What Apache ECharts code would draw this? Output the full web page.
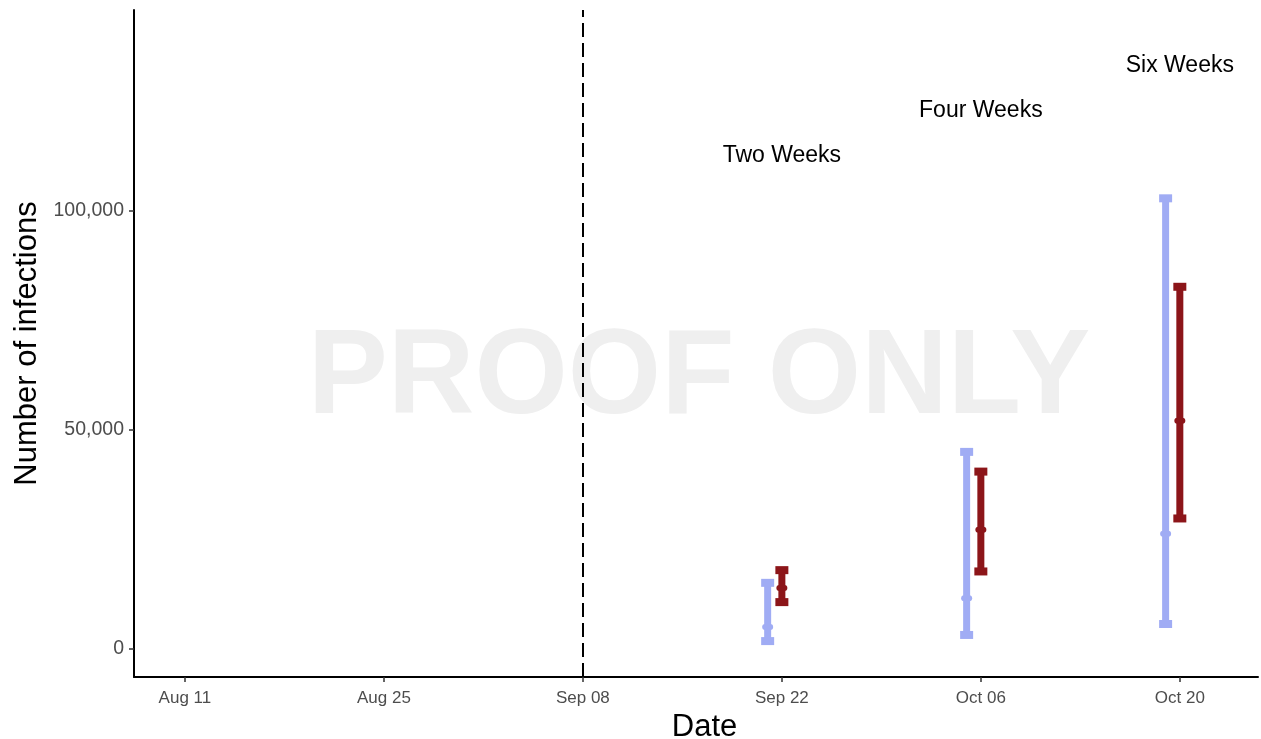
<!DOCTYPE html>
<html>
<head>
<meta charset="utf-8">
<script src="https://cdn.jsdelivr.net/npm/echarts@6/dist/echarts.min.js"></script>
<style>
html,body{margin:0;padding:0;background:#fff;}
#chart{width:1261px;height:739px;}
</style>
</head>
<body>
<div id="chart"></div>
<script>
// ---- data ----
const xTickDates = ['2020-08-11','2020-08-25','2020-09-08','2020-09-22','2020-10-06','2020-10-20'];
const yTickValues = [0, 50000, 100000];
const forecastStart = '2020-09-08';
const horizonLabels = ['Two Weeks','Four Weeks','Six Weeks'];
const labelDates = ['2020-09-22','2020-10-06','2020-10-20'];
const labelValues = [112600, 122900, 133200];
const blueDates = ['2020-09-21','2020-10-05','2020-10-19'];
const blueLow  = [1800, 3200, 5700];
const blueMid  = [5000, 11600, 26300];
const blueHigh = [15100, 45000, 102900];
const redDates = ['2020-09-22','2020-10-06','2020-10-20'];
const redLow  = [10700, 17700, 29800];
const redMid  = [13900, 27200, 52100];
const redHigh = [18000, 40500, 82700];
const xMinDate = '2020-08-07T10:00:00Z';
const xMaxDate = '2020-10-25T12:00:00Z';
const yMin = -6400, yMax = 145900;

// ---- helpers ----
const ts = s => (s.length > 10 ? Date.parse(s) : Date.parse(s + 'T00:00:00Z'));
const MONTHS = ['Jan','Feb','Mar','Apr','May','Jun','Jul','Aug','Sep','Oct','Nov','Dec'];
const fmtDate = v => { const d = new Date(v); return MONTHS[d.getUTCMonth()] + ' ' + String(d.getUTCDate()).padStart(2,'0'); };
const FONT = '"Liberation Sans", Arial, Helvetica, sans-serif';
const BLUE = '#A0ACF4';
const RED = '#8C1519';

function errorData(dates, lo, mid, hi) {
  return dates.map((d, i) => [ts(d), lo[i], mid[i], hi[i]]);
}
function errorRenderer(color) {
  return function (params, api) {
    const x = api.value(0);
    const pLo = api.coord([x, api.value(1)]);
    const pMid = api.coord([x, api.value(2)]);
    const pHi = api.coord([x, api.value(3)]);
    const cx = pLo[0];
    const bw = 7, cw = 13, ch = 8;
    return {
      type: 'group',
      children: [
        { type: 'rect', shape: { x: cx - bw / 2, y: pHi[1], width: bw, height: pLo[1] - pHi[1] }, style: { fill: color } },
        { type: 'rect', shape: { x: cx - cw / 2, y: pHi[1] - ch / 2, width: cw, height: ch }, style: { fill: color } },
        { type: 'rect', shape: { x: cx - cw / 2, y: pLo[1] - ch / 2, width: cw, height: ch }, style: { fill: color } },
        { type: 'rect', shape: { x: cx - 5.5, y: pMid[1] - 3, width: 11, height: 6, r: 3 }, style: { fill: color } }
      ]
    };
  };
}

const chart = echarts.init(document.getElementById('chart'), null, { renderer: 'canvas' });
const option = {
  backgroundColor: '#ffffff',
  animation: false,
  graphic: [{
    type: 'text', x: 699, y: 380, z: 0, silent: true,
    style: { text: 'PROOF ONLY', fill: '#EFEFEF', font: 'bold 120px ' + FONT, align: 'center', verticalAlign: 'middle' }
  }],
  grid: { left: 134, right: 3, top: 10, bottom: 62, containLabel: false, outerBoundsMode: 'none' },
  xAxis: {
    type: 'value',
    min: ts(xMinDate), max: ts(xMaxDate),
    name: 'Date', nameLocation: 'middle', nameGap: 30,
    nameTextStyle: { fontSize: 31, color: '#000', fontFamily: FONT, padding: [0, 0, 0, 17] },
    axisLine: { show: true, onZero: false, lineStyle: { color: '#000', width: 2 } },
    axisTick: { show: true, length: 5, lineStyle: { color: '#333', width: 1.5 }, customValues: xTickDates.map(ts) },
    axisLabel: { customValues: xTickDates.map(ts), formatter: v => fmtDate(v), fontSize: 17, color: '#4D4D4D', fontFamily: FONT, margin: 13, hideOverlap: false },
    splitLine: { show: false }
  },
  yAxis: {
    type: 'value',
    min: yMin, max: yMax,
    name: 'Number of infections', nameLocation: 'middle', nameGap: 90,
    nameTextStyle: { fontSize: 31, color: '#000', fontFamily: FONT },
    axisLine: { show: true, onZero: false, lineStyle: { color: '#000', width: 2 } },
    axisTick: { show: true, length: 5, lineStyle: { color: '#333', width: 1.5 }, customValues: yTickValues },
    axisLabel: { customValues: yTickValues, formatter: v => v.toLocaleString('en-US'), fontSize: 19.5, color: '#4D4D4D', fontFamily: FONT, margin: 10, padding: [4, 0, 0, 0] },
    splitLine: { show: false }
  },
  series: [
    {
      type: 'custom', name: 'blue', z: 3,
      data: errorData(blueDates, blueLow, blueMid, blueHigh),
      renderItem: errorRenderer(BLUE),
      encode: { x: 0, y: [1, 2, 3] },
      markLine: {
        silent: true, symbol: 'none', label: { show: false },
        lineStyle: { color: '#000', width: 2, type: [14, 6] },
        data: [{ xAxis: ts(forecastStart) }]
      }
    },
    {
      type: 'custom', name: 'red', z: 3,
      data: errorData(redDates, redLow, redMid, redHigh),
      renderItem: errorRenderer(RED),
      encode: { x: 0, y: [1, 2, 3] }
    },
    {
      type: 'custom', name: 'labels', z: 4,
      data: labelDates.map((d, i) => [ts(d), labelValues[i]]),
      renderItem: function (params, api) {
        const p = api.coord([api.value(0), api.value(1)]);
        return {
          type: 'text', x: p[0], y: p[1],
          style: { text: horizonLabels[params.dataIndex], fill: '#000', font: '23px ' + FONT, align: 'center', verticalAlign: 'middle' }
        };
      },
      encode: { x: 0, y: 1 }
    }
  ]
};
chart.setOption(option);
</script>
</body>
</html>
